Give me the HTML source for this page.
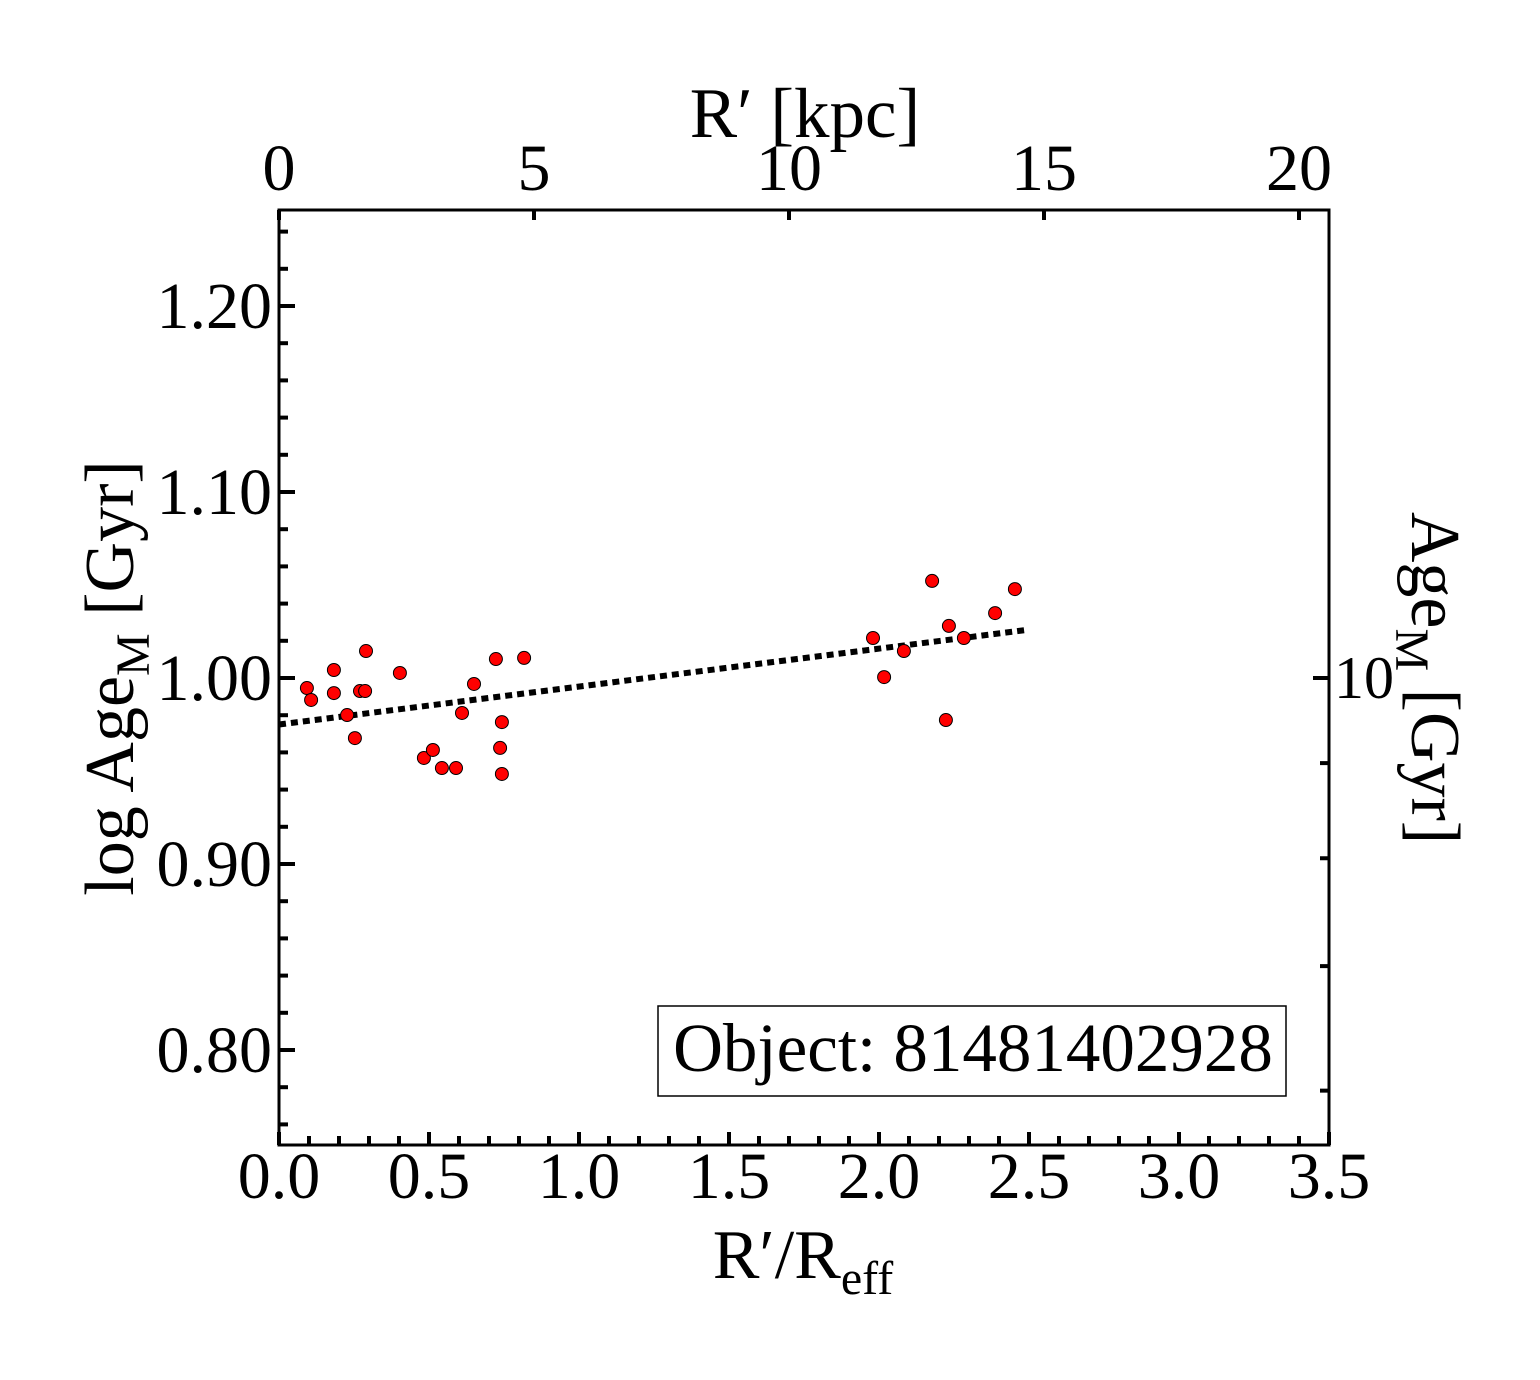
<!DOCTYPE html>
<html><head><meta charset="utf-8"><style>
body{margin:0;background:#fff;}
svg text{font-family:"Liberation Serif",serif;fill:#000;}
</style></head><body>
<svg id="chart" width="1540" height="1375" xmlns="http://www.w3.org/2000/svg">
<g id="axes"></g>
<g id="marks"></g>
<rect x="658" y="1006" width="628" height="90" fill="#fff" stroke="#000" stroke-width="1.5"/>
<text x="973" y="1071" font-size="69" text-anchor="middle">Object: 81481402928</text>
<text x="803" y="1278" font-size="70" text-anchor="middle">R′/R<tspan font-size="48" dy="16">eff</tspan></text>
<text x="805" y="137" font-size="71" text-anchor="middle">R′ [kpc]</text>
<text transform="translate(133,678) rotate(-90)" font-size="70" text-anchor="middle">log Age<tspan font-size="48" dy="16">M</tspan><tspan dy="-16"> [Gyr]</tspan></text>
<text transform="translate(1412,678) rotate(90)" font-size="70" text-anchor="middle">Age<tspan font-size="48" dy="16">M</tspan><tspan dy="-16"> [Gyr]</tspan></text>
</svg>
<script>
const xVals=[0.093,0.107,0.183,0.183,0.227,0.253,0.270,0.287,0.290,0.403,0.483,0.513,0.543,0.590,0.610,0.650,0.723,0.737,0.743,0.743,0.817,1.980,2.017,2.083,2.177,2.223,2.233,2.283,2.387,2.453];
const yVals=[0.9946,0.9882,1.0043,0.9919,0.9801,0.9677,0.9930,0.9930,1.0145,1.0027,0.9570,0.9613,0.9516,0.9516,0.9812,0.9968,1.0102,0.9624,0.9763,0.9484,1.0108,1.0215,1.0005,1.0145,1.0522,0.9774,1.0280,1.0215,1.0349,1.0478];
const fitX=[0.0,2.5];
const fitY=[0.975,1.026];
const xTicks=["0.0","0.5","1.0","1.5","2.0","2.5","3.0","3.5"];
const yTicks=["0.80","0.90","1.00","1.10","1.20"];
const topTicks=["0","5","10","15","20"];
const rightTicks=[6,7,8,9,10];
const L=279,R=1329,T=210,B=1145;
const X=v=>L+(v-0)/3.5*(R-L);
const Y=v=>678-(v-1.0)*1860;
const K=v=>L+v*51.0;
const NS="http://www.w3.org/2000/svg";
const ax=document.getElementById('axes'),mk=document.getElementById('marks');
function el(p,tag,a){const e=document.createElementNS(NS,tag);for(const k in a)e.setAttribute(k,a[k]);p.appendChild(e);return e;}
function ln(x1,y1,x2,y2,w){return el(ax,'line',{x1,y1,x2,y2,stroke:'#000','stroke-width':w||4});}
const fr=el(ax,'rect',{x:L,y:T,width:R-L,height:B-T,fill:'none',stroke:'#000','stroke-width':3});


for(let i=0;i<=35;i++){const v=i/10,x=X(v),len=(i%5==0)?13:9;ln(x,B,x,B-len);}
xTicks.forEach(s=>{const t=el(ax,'text',{x:X(+s),y:1198,'font-size':66,'text-anchor':'middle'});t.textContent=s;

});
for(let i=0;i<=25;i++){const v=0.76+i*0.02,y=Y(v);if(y<T||y>B)continue;const major=Math.abs((v*10)-Math.round(v*10))<1e-6;ln(L,y,L+(major?16:9),y);}
yTicks.forEach(s=>{const t=el(ax,'text',{x:272,y:Y(+s)+22,'font-size':66,'text-anchor':'end'});t.textContent=s;

});
topTicks.forEach(s=>{const x=K(+s);ln(x,T,x,T+10);const t=el(ax,'text',{x:x,y:190,'font-size':66,'text-anchor':'middle'});t.textContent=s;

});
rightTicks.forEach(v=>{const y=Y(Math.log10(v));ln(R,y,R-(v==10?16:9),y);});
const rt=el(ax,'text',{x:1334,y:Y(1)+20,'font-size':60});rt.textContent='10';


const fl=el(mk,'line',{x1:X(fitX[0]),y1:Y(fitY[0]),x2:X(fitX[1]),y2:Y(fitY[1]),stroke:'#000','stroke-width':6,'stroke-dasharray':'7 5'});


xVals.forEach((xv,i)=>{const c=el(mk,'circle',{cx:X(xv),cy:Y(yVals[i]),r:6.5,fill:'#f00',stroke:'#000','stroke-width':1});

});
</script>
</body></html>
